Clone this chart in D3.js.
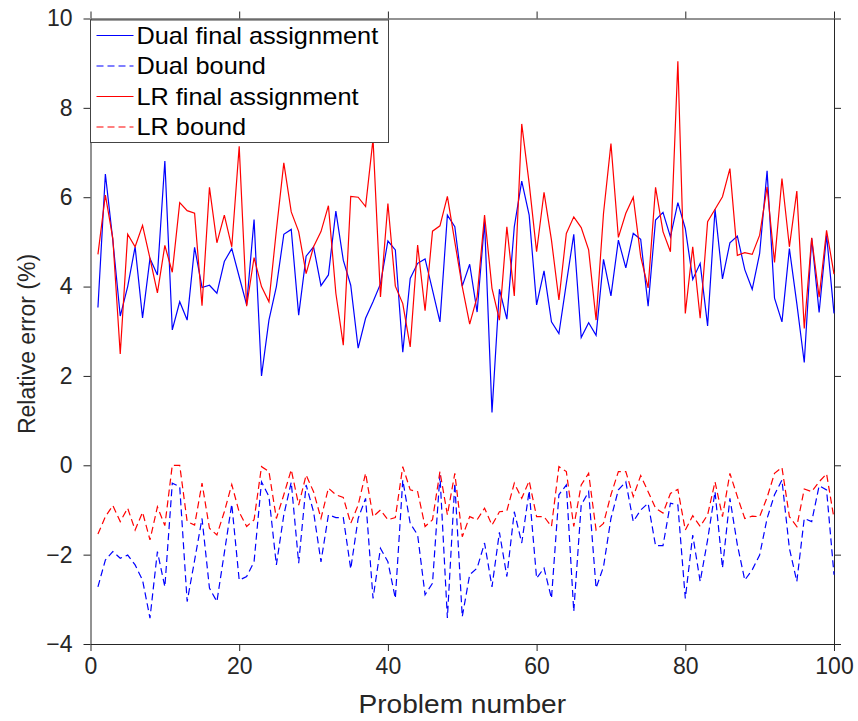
<!DOCTYPE html>
<html>
<head>
<meta charset="utf-8">
<script src="https://cdn.jsdelivr.net/npm/d3@7"></script>
<style>
  body { margin: 0; background: #fff; }
  svg { display: block; font-family: "Liberation Sans", Arial, sans-serif; }
</style>
</head>
<body>
<svg id="chart"></svg>
<script>
// Data (problem 1..100) ===========================>

var problems = d3.range(1, 101)

var dualFinal = [3.53, 6.52, 5.04, 3.34, 4.0, 4.89, 3.30, 4.63, 4.26, 6.81,
  3.03, 3.66, 3.25, 4.88, 3.98, 4.03, 3.85, 4.56, 4.85, 4.22,
  3.59, 5.50, 2.00, 3.25, 4.0, 5.17, 5.28, 3.36, 4.68, 4.89,
  4.02, 4.26, 5.69, 4.59, 4.03, 2.62, 3.29, 3.66, 4.06, 5.02,
  4.82, 2.53, 4.18, 4.52, 4.62, 3.92, 3.21, 5.60, 5.34, 4.01,
  4.50, 3.43, 5.45, 1.18, 3.94, 3.27, 5.34, 6.36, 5.60, 3.59,
  4.35, 3.21, 2.95, 4.07, 5.17, 2.86, 3.19, 2.91, 4.61, 3.79,
  5.04, 4.42, 5.19, 5.06, 3.56, 5.49, 5.66, 5.11, 5.88, 5.30,
  4.16, 4.52, 3.12, 5.73, 4.17, 4.98, 5.13, 4.38, 3.94, 4.74,
  6.59, 3.74, 3.21, 4.85, 3.62, 2.30, 5.08, 3.42, 5.15, 3.40]

var dualBound = [-2.72, -2.12, -1.93, -2.08, -2.01, -2.23, -2.57, -3.42, -1.93, -2.72,
  -0.40, -0.48, -3.05, -2.13, -1.19, -2.75, -3.05, -1.96, -0.87, -2.57,
  -2.49, -2.16, -0.37, -0.70, -2.23, -1.11, -0.38, -2.19, -0.44, -1.04,
  -2.16, -1.11, -1.17, -1.17, -2.32, -1.19, -0.74, -2.98, -1.86, -2.16,
  -2.98, -0.33, -1.30, -1.56, -2.90, -2.64, -0.22, -3.42, -0.40, -3.39,
  -2.45, -2.30, -1.74, -2.72, -1.50, -2.49, -1.04, -1.74, -0.57, -2.53,
  -2.30, -2.98, -0.66, -0.44, -3.27, -0.89, -0.59, -2.75, -2.27, -1.19,
  -0.55, -0.37, -1.26, -1.00, -0.85, -1.80, -1.80, -0.85, -0.89, -2.98,
  -1.56, -2.60, -1.67, -0.59, -2.30, -0.74, -1.78, -2.57, -2.34, -2.01,
  -1.19, -0.66, -0.33, -1.86, -2.60, -1.19, -1.26, -0.46, -0.55, -2.45]

var lrFinal = [4.72, 6.05, 5.08, 2.49, 5.17, 4.89, 5.37, 4.63, 3.86, 4.92,
  4.32, 5.88, 5.70, 5.64, 3.57, 6.22, 4.98, 5.60, 4.89, 7.14,
  3.56, 4.65, 4.00, 3.66, 5.26, 6.77, 5.67, 5.23, 4.29, 4.89,
  5.23, 5.81, 3.85, 2.69, 6.02, 6.00, 5.79, 7.30, 3.77, 5.86,
  4.01, 3.62, 2.65, 4.93, 3.46, 5.24, 5.36, 6.02, 5.00, 4.00,
  3.16, 3.77, 5.60, 3.96, 3.25, 5.34, 3.79, 7.64, 6.31, 4.78,
  6.11, 5.04, 3.70, 5.19, 5.56, 5.32, 4.82, 3.25, 5.64, 7.20,
  5.10, 5.64, 6.00, 4.67, 3.97, 6.22, 5.23, 4.78, 9.04, 3.40,
  4.89, 3.29, 5.45, 5.73, 6.01, 6.64, 4.70, 4.76, 4.72, 5.15,
  6.23, 4.54, 6.42, 4.89, 6.14, 3.06, 5.09, 3.76, 5.26, 4.28]

var lrBound = [-1.54, -1.15, -0.90, -1.26, -0.96, -1.45, -1.05, -1.67, -0.93, -1.35,
  0.00, 0.00, -1.26, -1.34, -0.40, -1.41, -1.56, -1.04, -0.43, -1.05,
  -1.37, -1.22, -0.03, -0.14, -1.19, -0.66, -0.10, -0.89, -0.22, -0.59,
  -1.19, -0.51, -0.66, -0.72, -1.30, -0.89, -0.18, -1.15, -1.00, -1.22,
  -1.17, -0.03, -0.55, -0.59, -1.37, -1.22, -0.14, -1.11, -0.18, -1.60,
  -1.15, -1.22, -0.96, -1.34, -1.04, -1.02, -0.40, -0.74, -0.35, -1.15,
  -1.15, -1.37, -0.03, -0.14, -1.37, -0.44, -0.18, -1.45, -1.30, -0.66,
  -0.14, -0.14, -0.70, -0.23, -0.59, -0.96, -1.07, -0.63, -0.54, -1.45,
  -1.13, -1.37, -1.11, -0.37, -1.15, -0.18, -0.70, -1.19, -1.14, -1.15,
  -0.72, -0.18, -0.05, -1.15, -1.37, -0.53, -0.59, -0.37, -0.19, -1.19]

var xTicks = [0, 20, 40, 60, 80, 100]
var yTicks = [-4, -2, 0, 2, 4, 6, 8, 10]

var seriesNames = ['Dual final assignment', 'Dual bound', 'LR final assignment', 'LR bound']
var seriesColors = ['#0000ff', '#0000ff', '#ff0000', '#ff0000']
var seriesDashed = [false, true, false, true]
var seriesValues = [dualFinal, dualBound, lrFinal, lrBound]

// Layout ======>

var svgWidth = 858, svgHeight = 721
var margin = {left: 90.5, top: 18.5, right: 24, bottom: 77}
var width = svgWidth - margin.left - margin.right
var height = svgHeight - margin.top - margin.bottom
var axisColor = '#262626'
var fontSize = 23

var svg = d3.select('#chart')
    .attr('width', svgWidth)
    .attr('height', svgHeight)

var g = svg.append('g')
    .attr('transform', 'translate(' + margin.left + ',' + margin.top + ')')

var x = d3.scaleLinear().domain([0, 100]).range([0, width])
var y = d3.scaleLinear().domain([-4, 10]).range([height, 0])

// Axes (box with ticks on all four sides, pointing out) ======>

function styleAxis(sel) {
    sel.select('.domain').attr('stroke', axisColor).attr('stroke-width', 1)
    sel.selectAll('.tick line').attr('stroke', axisColor).attr('stroke-width', 1)
    sel.selectAll('.tick text')
        .attr('fill', axisColor)
        .style('font-size', fontSize + 'px')
        .style('font-family', '"Liberation Sans", Arial, sans-serif')
}

g.append('g')
    .attr('transform', 'translate(0,' + height + ')')
    .call(d3.axisBottom(x).tickValues(xTicks).tickSizeInner(7).tickSizeOuter(0).tickPadding(7))
    .call(styleAxis)

g.append('g')
    .call(d3.axisTop(x).tickValues(xTicks).tickSizeInner(7).tickSizeOuter(0).tickFormat(''))
    .call(styleAxis)

g.append('g')
    .call(d3.axisLeft(y).tickValues(yTicks).tickSizeInner(7).tickSizeOuter(0).tickPadding(11))
    .call(styleAxis)

g.append('g')
    .attr('transform', 'translate(' + width + ',0)')
    .call(d3.axisRight(y).tickValues(yTicks).tickSizeInner(7).tickSizeOuter(0).tickFormat(''))
    .call(styleAxis)

// Lines ======>

var line = d3.line()
    .x(function(d, i) { return x(problems[i]) })
    .y(function(d) { return y(d) })

var plot = g.append('g')

seriesValues.forEach(function(values, k) {
    plot.append('path')
        .datum(values)
        .attr('d', line)
        .attr('fill', 'none')
        .attr('stroke', seriesColors[k])
        .attr('stroke-width', 1.2)
        .attr('stroke-dasharray', seriesDashed[k] ? '7,4' : null)
})

// Axis labels ======>

svg.append('text')
    .attr('transform', 'translate(' + (margin.left + width / 2) + ',713) scale(1.08,1)')
    .attr('text-anchor', 'middle')
    .attr('fill', axisColor)
    .style('font-size', '26px')
    .text('Problem number')

svg.append('text')
    .attr('transform', 'translate(35,344) rotate(-90)')
    .attr('text-anchor', 'middle')
    .attr('fill', axisColor)
    .style('font-size', fontSize + 'px')
    .text('Relative error (%)')

// Legend ======>

var legend = svg.append('g')
    .attr('transform', 'translate(' + margin.left + ',' + 20 + ')')

legend.append('rect')
    .attr('x', 0)
    .attr('y', 0)
    .attr('width', 298)
    .attr('height', 122.5)
    .attr('fill', '#fff')
    .attr('stroke', '#444')
    .attr('stroke-width', 1)

var rows = legend.selectAll('.row')
    .data(seriesNames)
    .enter()
    .append('g')
    .attr('transform', function(d, i) { return 'translate(0,' + (15.5 + i * 30.5) + ')' })

rows.append('line')
    .attr('x1', 6)
    .attr('x2', 43)
    .attr('stroke', function(d, i) { return seriesColors[i] })
    .attr('stroke-width', 1.2)
    .attr('stroke-dasharray', function(d, i) { return seriesDashed[i] ? '7,4' : null })

rows.append('text')
    .attr('transform', 'translate(46,8.2) scale(1.1,1)')
    .attr('fill', '#000')
    .style('font-size', fontSize + 'px')
    .text(function(d) { return d })
</script>
</body>
</html>
